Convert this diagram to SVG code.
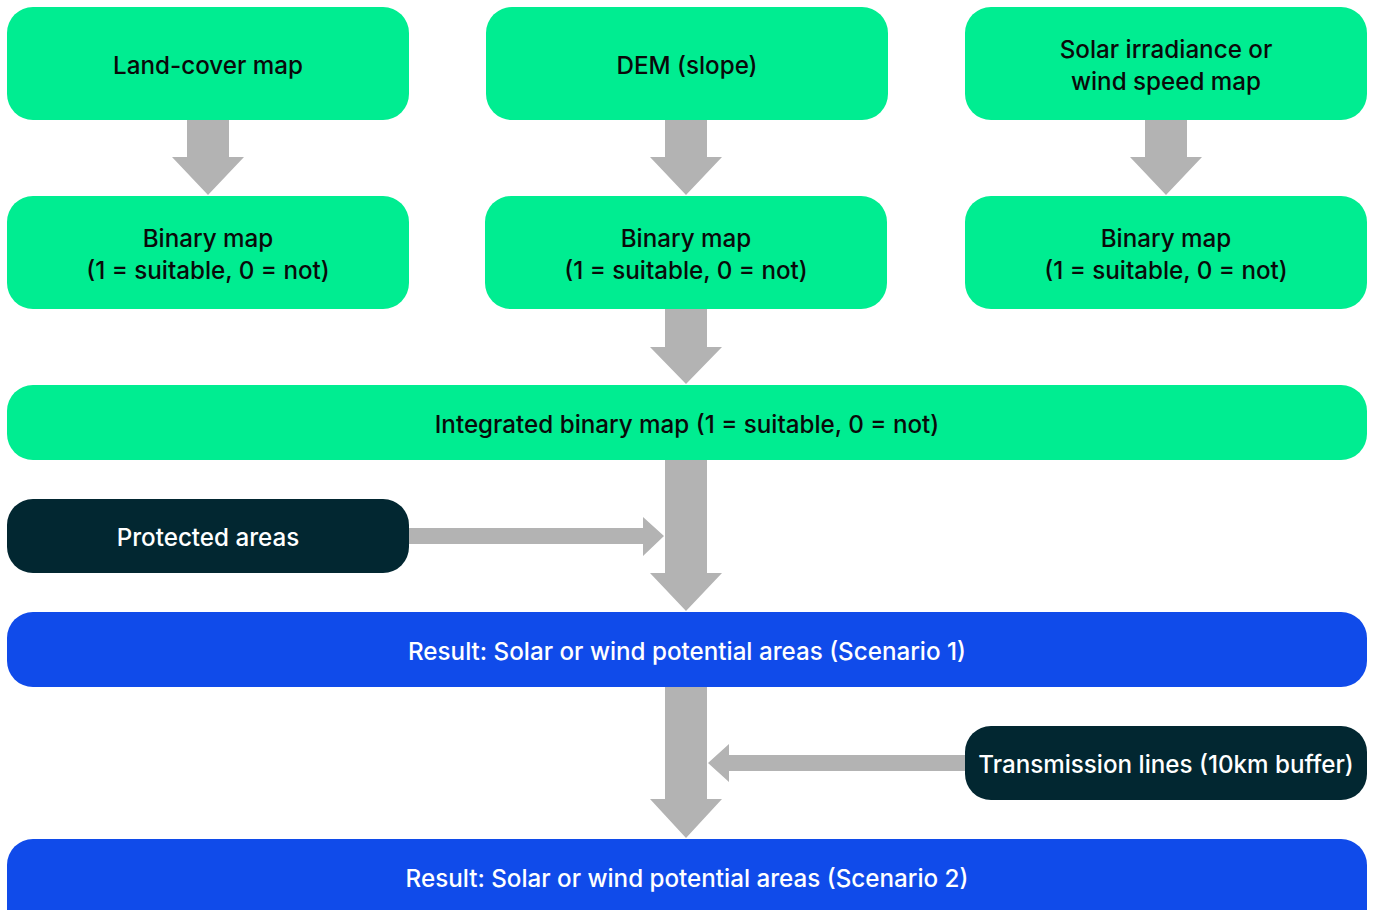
<svg xmlns="http://www.w3.org/2000/svg" width="1375" height="910" viewBox="0 0 1375 910">
<style>
.g{fill:#00ED91}
.d{fill:#022731}
.b{fill:#104BEA}
.a{fill:#B3B3B3}
text{font-family:Inter,"Liberation Sans",sans-serif;font-size:24.2px;font-weight:500;text-anchor:middle;dominant-baseline:central}
.k{fill:#0A0A0A}
.w{fill:#FFFFFF}
</style>
<rect width="1375" height="910" fill="#FFFFFF"/>
<g id="connectors">
<polygon class="a" points="187,120 229,120 229,157 244,157 208,195 172,157 187,157"/>
<polygon class="a" points="665,120 707,120 707,157 722,157 686,195 650,157 665,157"/>
<polygon class="a" points="1145,120 1187,120 1187,157 1202,157 1166,195 1130,157 1145,157"/>
<polygon class="a" points="665,309 707,309 707,347 722,347 686,384 650,347 665,347"/>
<polygon class="a" points="665,460 707,460 707,573 722,573 686,611 650,573 665,573"/>
<polygon class="a" points="409,528 643,528 643,517 664,536 643,556 643,544 409,544"/>
<polygon class="a" points="665,687 707,687 707,799 722,799 686,838 650,799 665,799"/>
<polygon class="a" points="965,755 729,755 729,744 708,763 729,782 729,771 965,771"/>
</g>
<g id="landcover"><rect class="g" x="7" y="7" width="402" height="113" rx="26"/><text class="k" x="208" y="65">Land-cover map</text></g>
<g id="dem"><rect class="g" x="486" y="7" width="402" height="113" rx="26"/><text class="k" x="687" y="65">DEM (slope)</text></g>
<g id="solar"><rect class="g" x="965" y="7" width="402" height="113" rx="26"/><text class="k" x="1166" y="49">Solar irradiance or</text><text class="k" x="1166" y="81">wind speed map</text></g>
<g id="binary1"><rect class="g" x="7" y="196" width="402" height="113" rx="26"/><text class="k" x="208" y="238">Binary map</text><text class="k" x="208" y="270">(1 = suitable, 0 = not)</text></g>
<g id="binary2"><rect class="g" x="485" y="196" width="402" height="113" rx="26"/><text class="k" x="686" y="238">Binary map</text><text class="k" x="686" y="270">(1 = suitable, 0 = not)</text></g>
<g id="binary3"><rect class="g" x="965" y="196" width="402" height="113" rx="26"/><text class="k" x="1166" y="238">Binary map</text><text class="k" x="1166" y="270">(1 = suitable, 0 = not)</text></g>
<g id="integrated"><rect class="g" x="7" y="385" width="1360" height="75" rx="26"/><text class="k" x="687" y="424">Integrated binary map (1 = suitable, 0 = not)</text></g>
<g id="protected"><rect class="d" x="7" y="499" width="402" height="74" rx="26"/><text class="w" x="208" y="537">Protected areas</text></g>
<g id="result1"><rect class="b" x="7" y="612" width="1360" height="75" rx="26"/><text class="w" x="687" y="651">Result: Solar or wind potential areas (Scenario 1)</text></g>
<g id="transmission"><rect class="d" x="965" y="726" width="402" height="74" rx="26"/><text class="w" x="1166" y="764">Transmission lines (10km buffer)</text></g>
<g id="result2"><rect class="b" x="7" y="839" width="1360" height="100" rx="26"/><text class="w" x="687" y="878">Result: Solar or wind potential areas (Scenario 2)</text></g>
</svg>
